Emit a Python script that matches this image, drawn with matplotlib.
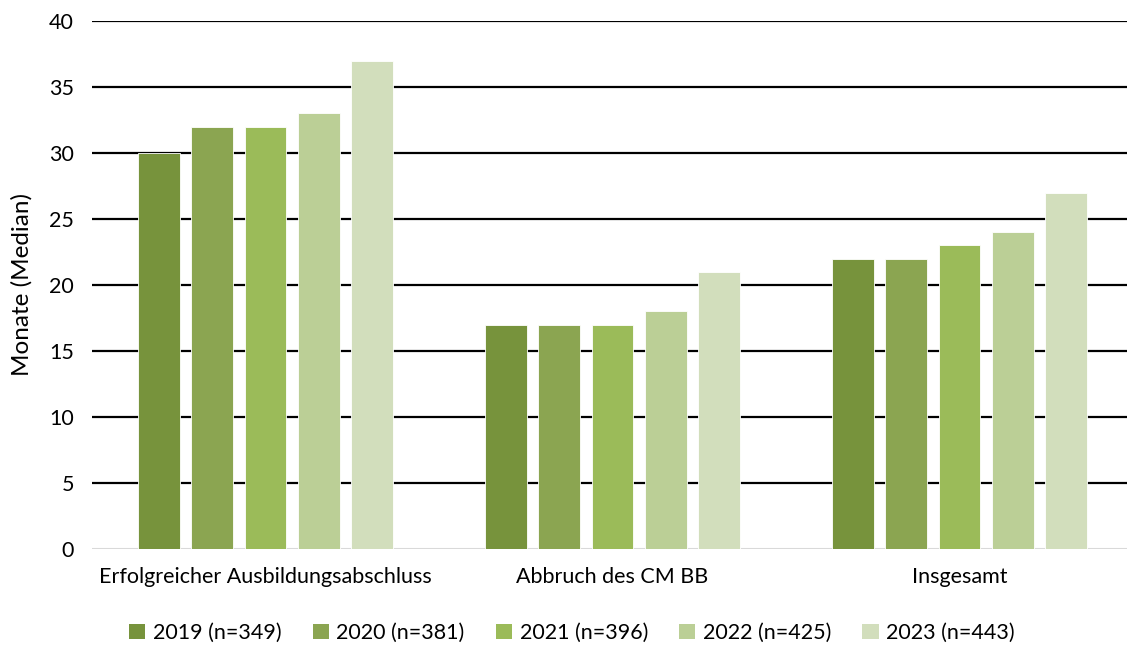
import numpy as np
import matplotlib.pyplot as plt
from matplotlib.patches import Patch

plt.rcParams['font.family'] = ['Lato', 'DejaVu Sans']

kategorien = ["Erfolgreicher Ausbildungsabschluss", "Abbruch des CM BB", "Insgesamt"]
jahre = ["2019 (n=349)", "2020 (n=381)", "2021 (n=396)", "2022 (n=425)", "2023 (n=443)"]
werte_2019 = [30, 17, 22]
werte_2020 = [32, 17, 22]
werte_2021 = [32, 17, 23]
werte_2022 = [33, 18, 24]
werte_2023 = [37, 21, 27]
farben = ["#77933C", "#8BA551", "#9BBB59", "#BBCF96", "#D2DEBC"]

serien = [werte_2019, werte_2020, werte_2021, werte_2022, werte_2023]

fig = plt.figure(figsize=(11.27, 6.48), dpi=100)
ax = fig.add_axes([92 / 1127, 99 / 648, 1041 / 1127, 528 / 648])

x = np.arange(len(kategorien))
breite = 0.121
abstand = 0.153
for i, (werte, farbe) in enumerate(zip(serien, farben)):
    ax.bar(x + (i - 2) * abstand, werte, width=breite, color=farbe,
           edgecolor="white", linewidth=0.6, zorder=3, label=jahre[i])

ax.set_xlim(-0.5, 2.5)
ax.set_ylim(0, 40)
ax.set_yticks(range(0, 41, 5))
ax.set_xticks(x)
ax.set_xticklabels(kategorien)
ax.tick_params(axis="both", length=0, labelsize=15.5, colors="#000000")
ax.tick_params(axis="x", pad=13)
ax.tick_params(axis="y", pad=13)

for y in range(5, 41, 5):
    ax.axhline(y, color="black", linewidth=1.6, zorder=1)
ax.axhline(0, color="#D9D9D9", linewidth=1.5, zorder=1)

for s in ax.spines.values():
    s.set_visible(False)

ax.set_ylabel("Monate (Median)", fontsize=17.5)
ax.yaxis.set_label_coords(-0.057, 0.5)

handles = [Patch(facecolor=f, edgecolor="none") for f in farben]
fig.legend(handles, jahre, loc="center", bbox_to_anchor=(572 / 1127, 1 - 633 / 648),
           ncol=5, frameon=False, fontsize=15.5, handlelength=0.75, handleheight=0.75,
           handletextpad=0.35, columnspacing=1.45)

fig.savefig("out.png", dpi=100)
